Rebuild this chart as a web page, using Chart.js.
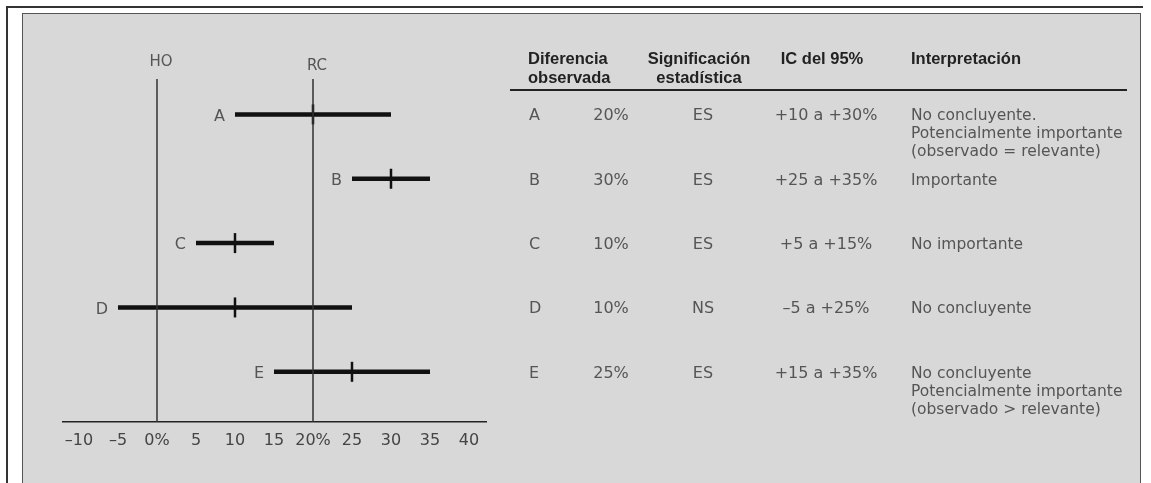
<!DOCTYPE html>
<html lang="es">
<head>
<meta charset="utf-8">
<title>Intervalos de confianza</title>
<script src="https://cdn.jsdelivr.net/npm/chart.js@4/dist/chart.umd.min.js"></script>
<style>
  html, body { margin: 0; padding: 0; background: #fff; }
  body { width: 1151px; height: 483px; position: relative; overflow: hidden; font-family: "DejaVu Sans", sans-serif; }
  #marco { position: absolute; left: 6px; top: 6px; width: 1135px; height: 480px; border-top: 2px solid #333; border-left: 2px solid #333; }
  #panel { position: absolute; left: 22px; top: 13px; width: 1117px; height: 480px; background: #d8d8d8; border: 1px solid #555; }
  #grafico { position: absolute; left: 0; top: 0; }
  .cab { position: absolute; font: bold 16.5px "Liberation Sans", Arial, sans-serif; color: #222; line-height: 19px; }
  .celda { position: absolute; font-size: 16px; color: #555; line-height: 18px; white-space: nowrap; }
  .interp { font-size: 15.5px; }
  #linea-cab { position: absolute; left: 510px; top: 89px; width: 617px; height: 2px; background: #222; }
</style>
</head>
<body>
<div id="marco"></div>
<div id="panel"></div>
<canvas id="grafico" width="1151" height="483"></canvas>
<div id="linea-cab"></div>
<div id="tabla"></div>
<script>
// ---------- Datos ----------
const categorias = ["A", "B", "C", "D", "E"];
const observado = [20, 30, 10, 10, 25];
const icInferior = [10, 25, 5, -5, 15];
const icSuperior = [30, 35, 15, 25, 35];
const significacion = ["ES", "ES", "ES", "NS", "ES"];
const interpretacion = [
  ["No concluyente.", "Potencialmente importante", "(observado = relevante)"],
  ["Importante"],
  ["No importante"],
  ["No concluyente"],
  ["No concluyente", "Potencialmente importante", "(observado > relevante)"]
];
const lineasRef = [0, 20];
const etiquetasRef = ["HO", "RC"];
const ticksX = [-10, -5, 0, 5, 10, 15, 20, 25, 30, 35, 40];
const etiquetasX = ["–10", "–5", "0%", "5", "10", "15", "20%", "25", "30", "35", "40"];
const encabezados = ["Diferencia<br>observada", "Significación<br>estadística", "IC del 95%", "Interpretación"];

// ---------- Gráfico ----------
const datasets = [];

lineasRef.forEach(v => {
  datasets.push({
    type: "line",
    data: [{ x: v, y: 0.45 }, { x: v, y: 5.78 }],
    borderColor: "#333",
    borderWidth: 1.5,
    pointRadius: 0
  });
});

categorias.forEach((c, i) => {
  datasets.push({
    type: "line",
    data: [{ x: icInferior[i], y: i + 1 }, { x: icSuperior[i], y: i + 1 }],
    borderColor: "#111",
    borderWidth: 4.5,
    borderCapStyle: "butt",
    pointRadius: 0
  });
});

datasets.push({
  type: "scatter",
  data: observado.map((v, i) => ({ x: v, y: i + 1 })),
  pointStyle: "line",
  rotation: 90,
  pointRadius: 10,
  borderColor: "#111",
  borderWidth: 2.5
});

const pluginEtiquetas = {
  id: "etiquetas",
  afterDatasetsDraw(chart) {
    const { ctx, chartArea } = chart;
    const x = chart.scales.x, y = chart.scales.y;
    ctx.save();
    ctx.fillStyle = "#555";
    ctx.textBaseline = "middle";
    ctx.font = '15px "DejaVu Sans"';
    ctx.textAlign = "center";
    lineasRef.forEach((v, i) => {
      ctx.fillText(etiquetasRef[i], x.getPixelForValue(v) + 4, chartArea.top - (i ? 13 : 17));
    });
    ctx.font = '16px "DejaVu Sans"';
    ctx.textAlign = "right";
    categorias.forEach((c, i) => {
      ctx.fillText(c, x.getPixelForValue(icInferior[i]) - 10, y.getPixelForValue(i + 1) + 2);
    });
    ctx.restore();
  }
};

const chart = new Chart(document.getElementById("grafico"), {
  data: { datasets },
  options: {
    responsive: false,
    animation: false,
    layout: { padding: { left: 63, right: 665, top: 79, bottom: 0 } },
    plugins: { legend: { display: false }, tooltip: { enabled: false } },
    scales: {
      x: {
        type: "linear",
        min: -12.05,
        max: 42.18,
        afterBuildTicks: (s) => { s.ticks = ticksX.map(v => ({ value: v })); },
        afterFit: (s) => { s.height = 61; },
        grid: { display: false, drawTicks: false },
        border: { display: true, color: "#222", width: 1.5 },
        ticks: {
          padding: 9,
          color: "#444",
          font: { family: "DejaVu Sans", size: 16 },
          callback: (v) => etiquetasX[ticksX.indexOf(v)]
        }
      },
      y: {
        type: "linear",
        reverse: true,
        min: 0.45,
        max: 5.78,
        display: false
      }
    }
  },
  plugins: [pluginEtiquetas]
});

// ---------- Tabla ----------
const tabla = document.getElementById("tabla");

function agregar(html, clase, estilo) {
  const d = document.createElement("div");
  d.className = clase;
  d.innerHTML = html;
  Object.assign(d.style, estilo);
  tabla.appendChild(d);
  return d;
}

function signo(v) {
  return (v < 0 ? "–" : "+") + Math.abs(v);
}

agregar(encabezados[0], "cab", { left: "528px", top: "49px" });
agregar(encabezados[1], "cab", { left: "619px", top: "49px", width: "160px", textAlign: "center" });
agregar(encabezados[2], "cab", { left: "742px", top: "49px", width: "160px", textAlign: "center" });
agregar(encabezados[3], "cab", { left: "911px", top: "49px" });

categorias.forEach((c, i) => {
  const top = chart.scales.y.getPixelForValue(i + 1) - 8 + "px";
  agregar(c, "celda", { left: "529px", top });
  agregar(observado[i] + "%", "celda", { left: "571px", top, width: "80px", textAlign: "center" });
  agregar(significacion[i], "celda", { left: "663px", top, width: "80px", textAlign: "center" });
  agregar(signo(icInferior[i]) + " a " + signo(icSuperior[i]) + "%", "celda", { left: "756px", top, width: "140px", textAlign: "center" });
  agregar(interpretacion[i].join("<br>"), "celda interp", { left: "911px", top });
});
</script>
</body>
</html>
